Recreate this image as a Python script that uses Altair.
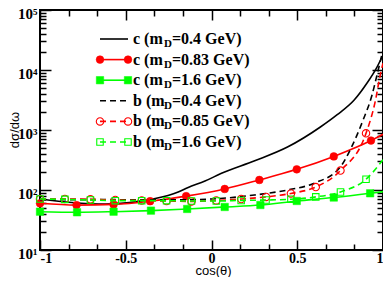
import altair as alt
import pandas as pd

# ---------------- data ----------------
C04_X = [-1.0, -0.815, -0.617, -0.426, -0.328, -0.194, -0.136, -0.038, 0.055, 0.252, 0.443, 0.635, 0.733, 0.832, 0.907, 0.965, 1.0]
C04_Y = [70.8, 62, 58.4, 64.6, 72, 92.8, 110, 141, 188, 307, 520, 1122, 1800, 3162, 6070, 11200, 17800]

C083_X = [-1.0, -0.787, -0.571, -0.358, -0.148, 0.077, 0.279, 0.497, 0.713, 0.930, 1.0]
C083_Y = [60, 56, 57.5, 65, 79, 104, 147, 221, 363, 668, 850]
C083_M = [1, 1, 1, 1, 1, 1, 1, 1, 1, 1, 0]

C16_X = [-1.0, -0.784, -0.571, -0.353, -0.142, 0.077, 0.285, 0.497, 0.713, 0.925, 1.0]
C16_Y = [43.5, 42.5, 43.5, 45.3, 48.3, 52.1, 56.2, 65.6, 74.9, 88.1, 93.8]
C16_M = [1, 1, 1, 1, 1, 1, 1, 1, 1, 1, 0]

B04_X = [-1.0, -0.6, -0.2, 0.0, 0.25, 0.443, 0.6, 0.751, 0.814, 0.884, 0.936, 0.965, 1.0]
B04_Y = [69, 69, 68.5, 70.8, 82.5, 100, 130, 242, 501, 1470, 3830, 8250, 21500]

B085_X = [-1.0, -0.855, -0.706, -0.561, -0.407, -0.262, -0.117, 0.028, 0.173, 0.318, 0.463, 0.608, 0.752, 0.901, 0.955, 0.984, 1.0]
B085_Y = [70.8, 70.8, 69.8, 68.1, 67, 65.6, 64.6, 67, 70.8, 76.7, 87.6, 112, 211, 881, 3020, 8300, 13000]
B085_M = [1] * 14 + [0, 0, 0]

B16_X = [-1.0, -0.855, -0.706, -0.561, -0.407, -0.262, -0.117, 0.028, 0.173, 0.318, 0.463, 0.608, 0.752, 0.901, 1.0]
B16_Y = [70.8, 69.8, 68.1, 66.4, 66.4, 66.4, 65.6, 65.6, 67, 68.1, 70, 76.7, 92.8, 151, 320]
B16_M = [1] * 14 + [0]

LEGEND_PREFIX = ["c (m", "c (m", "c (m", "b (m", "b (m", "b (m"]
LEGEND_SUFFIX = ["=0.4 GeV)", "=0.83 GeV)", "=1.6 GeV)", "=0.4 GeV)", "=0.85 GeV)", "=1.6 GeV)"]

XMAJOR = [-1, -0.5, 0, 0.5, 1]
XMINOR = [-5/6, -4/6, -2/6, -1/6, 1/6, 2/6, 4/6, 5/6]
YMAJOR = [10, 100, 1000, 10000, 100000]
YMAJOR_LABELS = ["10¹", "10²", "10³", "10⁴", "10⁵"]
YMINOR = [k * 10 ** d for d in range(1, 5) for k in range(2, 10)]

X_TITLE = "cos(θ)"
Y_TITLE = "dσ/dω"

W, H = 343, 240
RED, GREEN, BLACK = "#ff0000", "#00ff00", "#000000"

def df(xs, ys, ms=None):
    return pd.DataFrame({"x": xs, "y": ys, "m": ms if ms is not None else [0] * len(xs)})

XS = alt.Scale(domain=[-1, 1], nice=False, zero=False)
YS = alt.Scale(type="log", domain=[10, 100000], nice=False)

def X(axis=None):
    return alt.X("x:Q", scale=XS, axis=axis)

def Y(axis=None):
    return alt.Y("y:Q", scale=YS, axis=axis)

tick_common = dict(labels=False, domain=False, grid=False, title=None,
                   tickColor="black", tickWidth=1.5)

y_label_expr = ""
for v, lab in zip(YMAJOR[:-1], YMAJOR_LABELS[:-1]):
    y_label_expr += f"datum.value < {v * 3} ? '{lab}' : "
y_label_expr += f"'{YMAJOR_LABELS[-1]}'"

x_axes = [
    alt.Axis(orient="bottom", values=XMAJOR, ticks=False, domain=False, grid=False,
             labelExpr="'' + datum.value", labelFont="Liberation Serif", labelFontWeight="bold",
             labelFontSize=14, labelColor="black", labelPadding=1, title=None),
    alt.Axis(orient="bottom", values=XMAJOR, tickSize=10, offset=-10, **tick_common),
    alt.Axis(orient="bottom", values=XMINOR, tickSize=6, offset=-6, **tick_common),
    alt.Axis(orient="top", values=XMAJOR, tickSize=10, offset=-10, **tick_common),
    alt.Axis(orient="top", values=XMINOR, tickSize=6, offset=-6, **tick_common),
]
y_axes = [
    alt.Axis(orient="left", values=YMAJOR, ticks=False, domain=False, grid=False,
             labelExpr=y_label_expr, labelFont="Liberation Serif", labelFontWeight="bold",
             labelFontSize=15, labelColor="black", labelPadding=3, labelOffset=3,
             title=None),
    alt.Axis(orient="left", values=YMAJOR, tickSize=11, offset=-11, **tick_common),
    alt.Axis(orient="left", values=YMINOR, tickSize=6, offset=-6, **tick_common),
    alt.Axis(orient="right", values=YMAJOR, tickSize=11, offset=-11, **tick_common),
    alt.Axis(orient="right", values=YMINOR, tickSize=6, offset=-6, **tick_common),
]

carrier_data = df(C04_X, C04_Y)
carriers = [
    alt.Chart(carrier_data).mark_point(opacity=0).encode(x=X(xa), y=Y(ya))
    for xa, ya in zip(x_axes, y_axes)
]

LW = 1.6
def line(d, color, dash=None):
    kw = dict(color=color, strokeWidth=LW, interpolate="monotone", clip=True)
    if dash:
        kw["strokeDash"] = dash
    return alt.Chart(d).mark_line(**kw).encode(x=X(), y=Y())

def markers(d, color, shape, filled, size):
    if filled:
        mk = alt.Chart(d).mark_point(shape=shape, filled=True, fill=color, stroke=color,
                                     strokeWidth=0.5, size=size, opacity=1)
    else:
        mk = alt.Chart(d).mark_point(shape=shape, filled=False, stroke=color,
                                     strokeWidth=1.1, size=size, opacity=1)
    return mk.transform_filter("datum.m == 1").encode(x=X(), y=Y())

DASH = [6, 4]
d_c04 = df(C04_X, C04_Y)
d_c083 = df(C083_X, C083_Y, C083_M)
d_c16 = df(C16_X, C16_Y, C16_M)
d_b04 = df(B04_X, B04_Y)
d_b085 = df(B085_X, B085_Y, B085_M)
d_b16 = df(B16_X, B16_Y, B16_M)

series = [
    line(d_c04, BLACK),
    line(d_c083, RED), markers(d_c083, RED, "circle", True, 60),
    line(d_c16, GREEN), markers(d_c16, GREEN, "square", True, 55),
    line(d_b04, BLACK, DASH),
    line(d_b085, RED, DASH), markers(d_b085, RED, "circle", False, 55),
    line(d_b16, GREEN, DASH), markers(d_b16, GREEN, "square", False, 42),
]

one = pd.DataFrame({"k": [0]})

# ---------------- axis titles ----------------
titles = [
    alt.Chart(one).mark_text(text=X_TITLE, font="Liberation Sans", fontSize=13,
                             color="black", align="center", baseline="alphabetic").encode(
        x=alt.value(W / 2 + 2), y=alt.value(H + 25)),
    alt.Chart(one).mark_text(text=Y_TITLE, font="Liberation Sans", fontSize=13, angle=270,
                             color="black", align="center", baseline="middle").encode(
        x=alt.value(-25), y=alt.value(H / 2)),
]

# ---------------- legend (drawn inside the plot) ----------------
ROW0, ROWSTEP = 29, 20.6
LX1, LX2 = 60, 88
TX = 93
styles = [
    (BLACK, None, None, None),
    (RED, None, "circle", True),
    (GREEN, None, "square", True),
    (BLACK, DASH, None, None),
    (RED, DASH, "circle", False),
    (GREEN, DASH, "square", False),
]
legend = []
for i, (col, dash, shape, filled) in enumerate(styles):
    ry = ROW0 + i * ROWSTEP
    rk = dict(color=col, strokeWidth=LW)
    if dash:
        rk["strokeDash"] = DASH
    legend.append(alt.Chart(one).mark_rule(**rk).encode(
        x=alt.value(LX1), x2=alt.value(LX2), y=alt.value(ry)))
    if shape:
        for px in (LX1, LX2):
            if filled:
                m = alt.Chart(one).mark_point(shape=shape, filled=True, fill=col, stroke=col,
                                              strokeWidth=0.5, opacity=1,
                                              size=60 if shape == "circle" else 55)
            else:
                m = alt.Chart(one).mark_point(shape=shape, filled=False, stroke=col,
                                              strokeWidth=1.1, opacity=1,
                                              size=55 if shape == "circle" else 42)
            legend.append(m.encode(x=alt.value(px), y=alt.value(ry)))
    tk = dict(font="Liberation Serif", fontWeight="bold", color="black",
              align="left", baseline="middle")
    legend.append(alt.Chart(one).mark_text(text=LEGEND_PREFIX[i], fontSize=16, **tk).encode(
        x=alt.value(TX), y=alt.value(ry)))
    legend.append(alt.Chart(one).mark_text(text="D", fontSize=11, **tk).encode(
        x=alt.value(TX + 31), y=alt.value(ry + 5)))
    legend.append(alt.Chart(one).mark_text(text=LEGEND_SUFFIX[i], fontSize=16, **tk).encode(
        x=alt.value(TX + 39), y=alt.value(ry)))

chart = alt.layer(*carriers, *series, *titles, *legend).resolve_axis(
    x="independent", y="independent"
).resolve_scale(x="shared", y="shared").properties(
    width=W, height=H,
    autosize=alt.AutoSizeParams(type="none"),
    padding={"left": 32, "top": 2, "right": 0, "bottom": 27},
).configure_view(stroke="black", strokeWidth=2)

chart.save("out.html", embed_options={"renderer": "svg", "actions": False})
